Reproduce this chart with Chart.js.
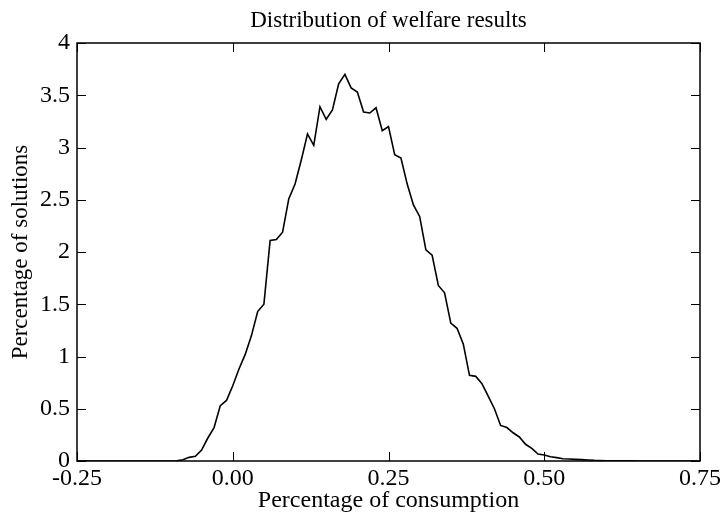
<!DOCTYPE html>
<html>
<head>
<meta charset="utf-8">
<script src="https://cdn.jsdelivr.net/npm/chart.js@4/dist/chart.umd.min.js"></script>
<style>
  html, body { margin: 0; padding: 0; background: #fff; }
  #wrap { width: 724px; height: 520px; }
</style>
</head>
<body>
<div id="wrap"><canvas id="welfareChart" width="724" height="520"></canvas></div>
<script>
// histogram bins (share of consumption) and percentage of solutions in each
const consumptionBins = [
  -0.25, -0.10, -0.09, -0.08, -0.07, -0.06, -0.05, -0.04, -0.03, -0.02, -0.01,
  0.00, 0.01, 0.02, 0.03, 0.04, 0.05, 0.06, 0.07, 0.08, 0.09,
  0.10, 0.11, 0.12, 0.13, 0.14, 0.15, 0.16, 0.17, 0.18, 0.19,
  0.20, 0.21, 0.22, 0.23, 0.24, 0.25, 0.26, 0.27, 0.28, 0.29,
  0.30, 0.31, 0.32, 0.33, 0.34, 0.35, 0.36, 0.37, 0.38, 0.39,
  0.40, 0.41, 0.42, 0.43, 0.44, 0.45, 0.46, 0.47, 0.48, 0.49,
  0.50, 0.51, 0.52, 0.53, 0.54, 0.55, 0.56, 0.57, 0.58, 0.59,
  0.60, 0.61, 0.62, 0.63, 0.64, 0.65, 0.75
];
const solutionsPct = [
  0, 0, 0.002, 0.012, 0.035, 0.045, 0.105, 0.22, 0.32, 0.53, 0.58,
  0.72, 0.88, 1.02, 1.20, 1.43, 1.50, 2.11, 2.12, 2.19, 2.51,
  2.65, 2.88, 3.13, 3.02, 3.39, 3.27, 3.36, 3.61, 3.70, 3.57,
  3.53, 3.34, 3.33, 3.38, 3.16, 3.20, 2.93, 2.90, 2.65, 2.45,
  2.34, 2.02, 1.97, 1.68, 1.61, 1.32, 1.27, 1.12, 0.82, 0.81,
  0.74, 0.62, 0.50, 0.34, 0.32, 0.27, 0.23, 0.16, 0.12, 0.067,
  0.057, 0.041, 0.032, 0.022, 0.019, 0.016, 0.013, 0.010, 0.006, 0.004,
  0.003, 0.002, 0.002, 0.001, 0.001, 0, 0
];
const xTickLabels = ['-0.25', '0.00', '0.25', '0.50', '0.75'];
const yTickLabels = ['0', '0.5', '1', '1.5', '2', '2.5', '3', '3.5', '4'];

const serif = '"Liberation Serif", "Times New Roman", serif';

// box round the plot with inward ticks on all four sides
const frameTicks = {
  id: 'frameTicks',
  afterDatasetsDraw(chart) {
    const { ctx, chartArea: a, scales: { x, y } } = chart;
    const len = 9;
    ctx.save();
    ctx.strokeStyle = '#000';
    ctx.lineWidth = 1;
    ctx.beginPath();
    x.ticks.forEach(t => {
      const px = Math.round(x.getPixelForValue(t.value)) + 0.5;
      ctx.moveTo(px, a.bottom); ctx.lineTo(px, a.bottom - len);
      ctx.moveTo(px, a.top); ctx.lineTo(px, a.top + len);
    });
    y.ticks.forEach(t => {
      const py = Math.round(y.getPixelForValue(t.value)) + 0.5;
      ctx.moveTo(a.left, py); ctx.lineTo(a.left + len, py);
      ctx.moveTo(a.right, py); ctx.lineTo(a.right - len, py);
    });
    ctx.stroke();
    ctx.lineWidth = 1.5;
    ctx.strokeRect(a.left, a.top, a.right - a.left, a.bottom - a.top);
    ctx.restore();
  }
};

const ctx = document.getElementById('welfareChart').getContext('2d');
const chart = new Chart(ctx, {
  type: 'line',
  data: {
    datasets: [{
      label: 'Percentage of solutions',
      data: consumptionBins.map((v, i) => ({ x: v, y: solutionsPct[i] })),
      borderColor: '#000',
      borderWidth: 1.6,
      pointRadius: 0,
      tension: 0,
      fill: false
    }]
  },
  options: {
    responsive: false,
    animation: false,
    layout: { padding: { left: 0, right: 23, top: 0, bottom: 0 } },
    plugins: {
      legend: { display: false },
      tooltip: { enabled: false },
      title: {
        display: true,
        fullSize: false,
        text: 'Distribution of welfare results',
        color: '#000',
        font: { family: serif, size: 23, weight: 'normal', lineHeight: 1.2 },
        padding: { top: 7, bottom: 8.4 }
      }
    },
    scales: {
      x: {
        type: 'linear',
        min: -0.25,
        max: 0.75,
        afterFit: s => { s.height = 59; },
        grid: { display: true, drawOnChartArea: false, drawTicks: false },
        border: { display: false },
        ticks: {
          stepSize: 0.25,
          autoSkip: false,
          maxRotation: 0,
          padding: 3,
          color: '#000',
          font: { family: serif, size: 24 },
          callback: (v, i) => xTickLabels[i]
        },
        title: {
          display: true,
          text: 'Percentage of consumption',
          color: '#000',
          font: { family: serif, size: 24, lineHeight: 1.2 },
          padding: { top: 0, bottom: 5 }
        }
      },
      y: {
        min: 0,
        max: 4,
        afterFit: s => { s.width = 77; },
        grid: { display: true, drawOnChartArea: false, drawTicks: false },
        border: { display: false },
        ticks: {
          stepSize: 0.5,
          padding: 7,
          color: '#000',
          font: { family: serif, size: 24 },
          callback: (v, i) => yTickLabels[i]
        },
        title: {
          display: true,
          text: 'Percentage of solutions',
          color: '#000',
          font: { family: serif, size: 23, lineHeight: 1.2 },
          padding: { top: 7, bottom: 0 }
        }
      }
    }
  },
  plugins: [frameTicks]
});
</script>
</body>
</html>
